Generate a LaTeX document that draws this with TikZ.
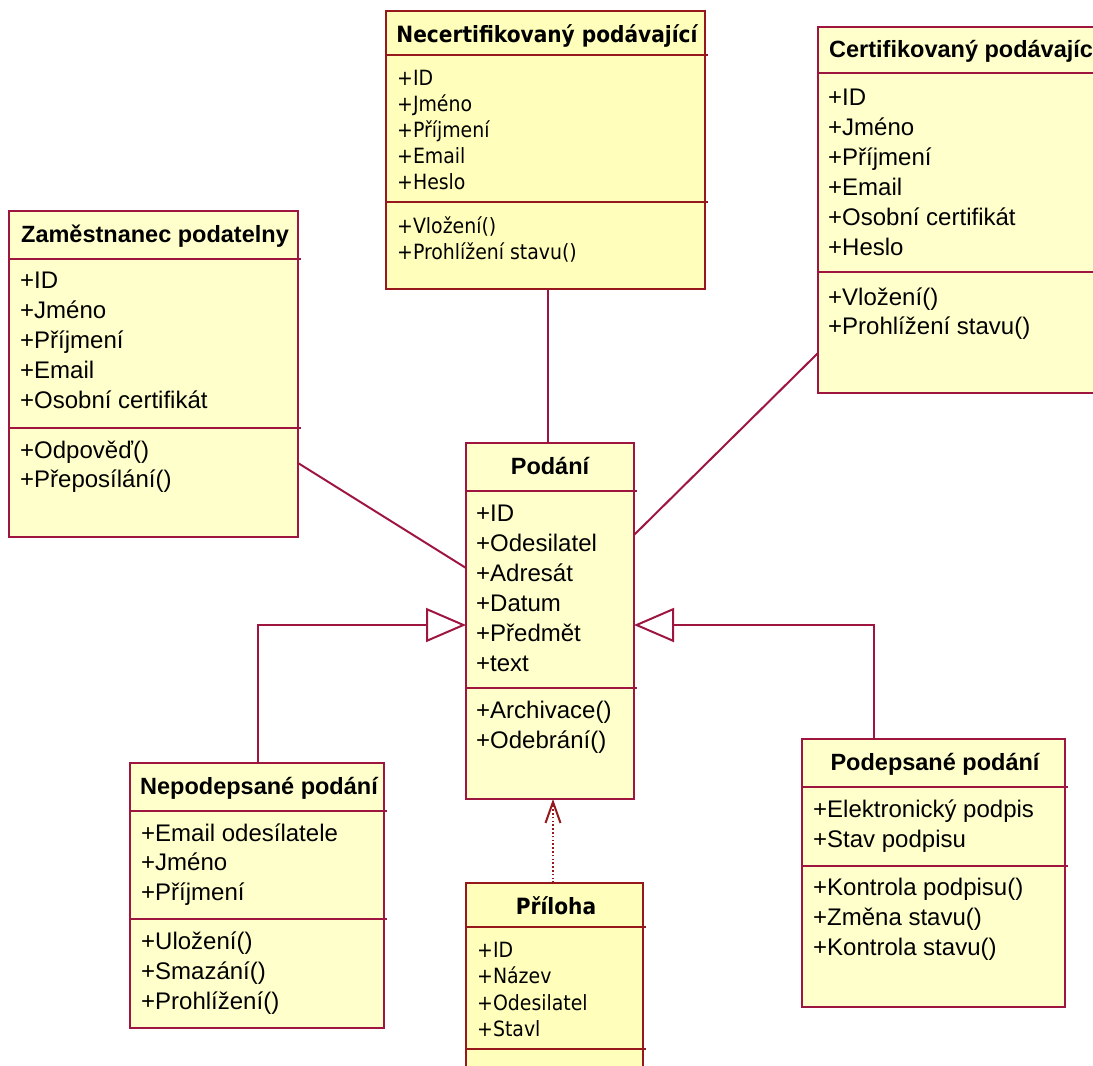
\documentclass[tikz,border=0pt]{standalone}
\usepackage{fontspec}
\setmainfont{Liberation Sans}
\newfontfamily\tah{DejaVu Sans Condensed}
\usetikzlibrary{arrows.meta}
\definecolor{bordA}{RGB}{158,22,64}
\definecolor{bordB}{RGB}{150,24,28}
\definecolor{fillA}{RGB}{255,255,204}
\definecolor{fillB}{RGB}{255,255,187}
\tikzset{
  umlbox/.style={draw=bordA, fill=fillA, line width=2pt, inner sep=0pt, outer sep=0pt, anchor=north west},
  umlboxB/.style={umlbox, draw=bordB, fill=fillB},
  sepline/.style={draw=bordA, line width=2pt},
  seplineB/.style={draw=bordB, line width=2pt},
  ttl/.style={font=\bfseries\fontsize{23.5}{23.5}\selectfont, anchor=base, inner sep=0pt},
  ttlw/.style={ttl, anchor=base west},
  attr/.style={font=\fontsize{24}{24}\selectfont, anchor=base west, inner sep=0pt},
  ttlB/.style={font=\tah\bfseries\fontsize{22.4}{22.4}\selectfont, anchor=base, inner sep=0pt},
  attrB/.style={font=\tah\fontsize{21}{21}\selectfont, anchor=base west, inner sep=0pt},
  conn/.style={draw=bordA, line width=2pt},
  gen/.style={conn, -{Triangle[open, length=40pt, width=34pt, line width=2pt]}},
  dep/.style={draw=bordB, line width=2pt, dash pattern=on 1.6pt off 2.2pt, -{Straight Barb[length=21pt, width=15pt, line width=2pt]}}
}
\begin{document}
\begin{tikzpicture}[x=1pt, y=-1pt]
\useasboundingbox (0,0) rectangle (1093,1066);
\clip (0,0) rectangle (1093,1066);

% ---------- Necertifikovaný podávající ----------
\node[umlboxB, minimum width=319pt, minimum height=278pt] (necert) at (386,11) {};
\draw[seplineB] (386,55) -- (708,55);
\draw[seplineB] (386,202) -- (708,202);
\node[ttlB] (necert-t) at (547,42) {Necertifikovaný podávající};
\node[attrB] (necert-a1) at (397,85) {+ID};
\node[attrB] (necert-a2) at (397,111) {+Jméno};
\node[attrB] (necert-a3) at (397,137) {+Příjmení};
\node[attrB] (necert-a4) at (397,163) {+Email};
\node[attrB] (necert-a5) at (397,189) {+Heslo};
\node[attrB] (necert-m1) at (397,233) {+Vložení()};
\node[attrB] (necert-m2) at (397,259) {+Prohlížení stavu()};

% ---------- Certifikovaný podávající ----------
\node[umlbox, minimum width=310pt, minimum height=366pt] (cert) at (818,27) {};
\draw[sepline] (818,73) -- (1130,73);
\draw[sepline] (818,272) -- (1130,272);
\node[ttlw] (cert-t) at (829,57) {Certifikovaný podávající};
\node[attr] (cert-a1) at (828,105) {+ID};
\node[attr] (cert-a2) at (828,135) {+Jméno};
\node[attr] (cert-a3) at (828,165) {+Příjmení};
\node[attr] (cert-a4) at (828,195) {+Email};
\node[attr] (cert-a5) at (828,225) {+Osobní certifikát};
\node[attr] (cert-a6) at (828,255) {+Heslo};
\node[attr] (cert-m1) at (828,305) {+Vložení()};
\node[attr] (cert-m2) at (828,334) {+Prohlížení stavu()};

% ---------- Zaměstnanec podatelny ----------
\node[umlbox, minimum width=289pt, minimum height=326pt] (zam) at (9,211) {};
\draw[sepline] (9,259) -- (301,259);
\draw[sepline] (9,428) -- (301,428);
\node[ttl] (zam-t) at (155,242) {Zaměstnanec podatelny};
\node[attr] (zam-a1) at (20,288) {+ID};
\node[attr] (zam-a2) at (20,318) {+Jméno};
\node[attr] (zam-a3) at (20,348) {+Příjmení};
\node[attr] (zam-a4) at (20,378) {+Email};
\node[attr] (zam-a5) at (20,408) {+Osobní certifikát};
\node[attr] (zam-m1) at (20,458) {+Odpověď()};
\node[attr] (zam-m2) at (20,487) {+Přeposílání()};

% ---------- Podání ----------
\node[umlbox, minimum width=168pt, minimum height=356pt] (podani) at (466,443) {};
\draw[sepline] (466,491) -- (637,491);
\draw[sepline] (466,688) -- (637,688);
\node[ttl] (podani-t) at (550,474) {Podání};
\node[attr] (podani-a1) at (476,521) {+ID};
\node[attr] (podani-a2) at (476,551) {+Odesilatel};
\node[attr] (podani-a3) at (476,581) {+Adresát};
\node[attr] (podani-a4) at (476,611) {+Datum};
\node[attr] (podani-a5) at (476,641) {+Předmět};
\node[attr] (podani-a6) at (476,671) {+text};
\node[attr] (podani-m1) at (476,718) {+Archivace()};
\node[attr] (podani-m2) at (476,748) {+Odebrání()};

% ---------- Nepodepsané podání ----------
\node[umlbox, minimum width=254pt, minimum height=265pt] (nepod) at (130,763) {};
\draw[sepline] (130,811) -- (387,811);
\draw[sepline] (130,919) -- (387,919);
\node[ttl] (nepod-t) at (259,794) {Nepodepsané podání};
\node[attr] (nepod-a1) at (141,841) {+Email odesílatele};
\node[attr] (nepod-a2) at (141,870) {+Jméno};
\node[attr] (nepod-a3) at (141,900) {+Příjmení};
\node[attr] (nepod-m1) at (141,949) {+Uložení()};
\node[attr] (nepod-m2) at (141,979) {+Smazání()};
\node[attr] (nepod-m3) at (141,1009) {+Prohlížení()};

% ---------- Podepsané podání ----------
\node[umlbox, minimum width=263pt, minimum height=268pt] (podep) at (802,739) {};
\draw[sepline] (802,787) -- (1068,787);
\draw[sepline] (802,866) -- (1068,866);
\node[ttl] (podep-t) at (935,770) {Podepsané podání};
\node[attr] (podep-a1) at (813,817) {+Elektronický podpis};
\node[attr] (podep-a2) at (813,847) {+Stav podpisu};
\node[attr] (podep-m1) at (813,895) {+Kontrola podpisu()};
\node[attr] (podep-m2) at (813,925) {+Změna stavu()};
\node[attr] (podep-m3) at (813,955) {+Kontrola stavu()};

% ---------- Příloha ----------
\node[umlboxB, minimum width=177pt, minimum height=250pt] (priloha) at (466,883) {};
\draw[seplineB] (466,927) -- (646,927);
\draw[seplineB] (466,1049) -- (646,1049);
\node[ttlB] (priloha-t) at (556,914) {Příloha};
\node[attrB] (priloha-a1) at (477,957) {+ID};
\node[attrB] (priloha-a2) at (477,983) {+Název};
\node[attrB] (priloha-a3) at (477,1010) {+Odesilatel};
\node[attrB] (priloha-a4) at (477,1036) {+Stavl};

% ---------- connectors ----------
\draw[conn] (necert.south -| 548,0) -- (podani.north -| 548,0);
\draw[conn] (cert.west |- 0,353) -- (podani.east |- 0,535);
\draw[conn] (zam.east |- 0,463) -- (podani.west |- 0,568);
\draw[gen] (nepod.north -| 258,0) |- (podani.west |- 0,625);
\draw[gen] (podep.north -| 874,0) |- (podani.east |- 0,625);
\draw[dep] (priloha.north -| 553,0) -- (podani.south -| 553,0);
\end{tikzpicture}
\end{document}
